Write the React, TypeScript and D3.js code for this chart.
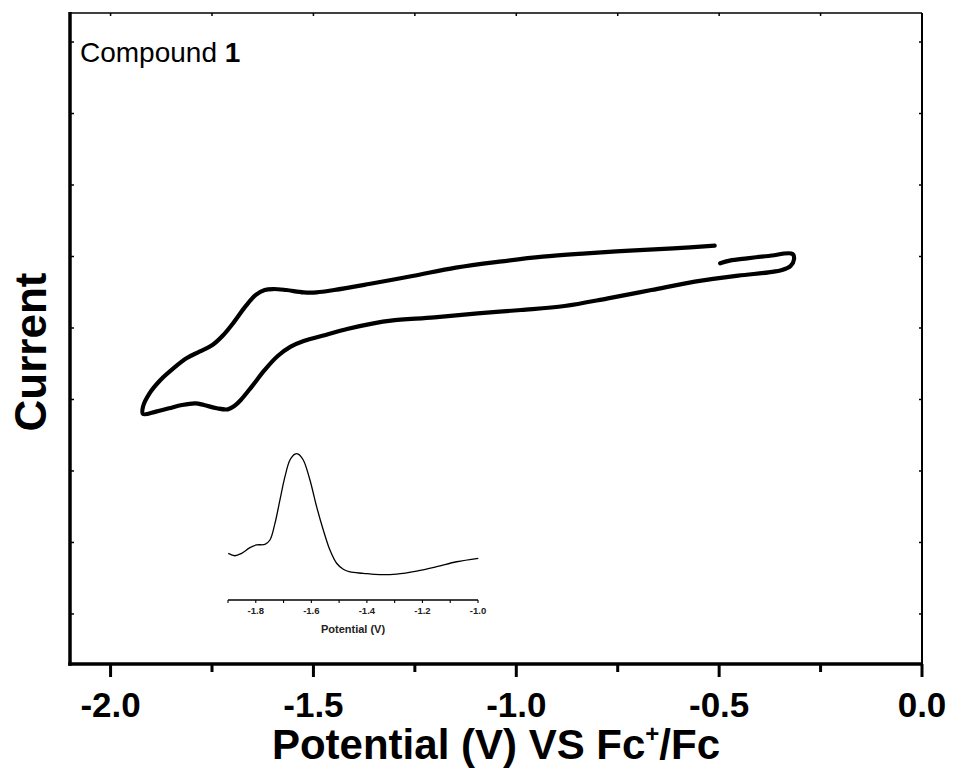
import React from "react";
import * as d3 from "d3";

// ---- Main cyclic voltammogram (potential in V vs Fc+/Fc, current in arbitrary units) ----
const cvPotential = [
  -0.4975, -0.474, -0.431, -0.378, -0.319, -0.3155, -0.324, -0.345, -0.378, -0.453,
  -0.56, -0.667, -0.774, -0.881, -0.988, -1.095, -1.202, -1.309, -1.352, -1.417,
  -1.47, -1.524, -1.556, -1.588, -1.62, -1.652, -1.679, -1.695, -1.711, -1.738,
  -1.77, -1.791, -1.824, -1.856, -1.888, -1.92, -1.92, -1.904, -1.877, -1.845,
  -1.813, -1.781, -1.749, -1.722, -1.695, -1.668, -1.642, -1.62, -1.599, -1.567,
  -1.524, -1.492, -1.449, -1.363, -1.256, -1.149, -1.042, -0.935, -0.827, -0.72,
  -0.613, -0.511,
];
const cvCurrent = [
  4.904, 4.942, 4.974, 5.007, 5.035, 4.96, 4.867, 4.811, 4.779, 4.732,
  4.648, 4.531, 4.415, 4.308, 4.252, 4.205, 4.149, 4.103, 4.065, 3.986,
  3.902, 3.818, 3.739, 3.608, 3.413, 3.18, 2.993, 2.909, 2.862, 2.877,
  2.923, 2.946, 2.923, 2.877, 2.83, 2.797, 2.9, 3.086, 3.273, 3.436,
  3.576, 3.669, 3.762, 3.902, 4.089, 4.298, 4.462, 4.531, 4.545, 4.531,
  4.499, 4.499, 4.531, 4.615, 4.727, 4.844, 4.928, 4.998, 5.044, 5.082,
  5.114, 5.152,
];

// ---- Inset (differential pulse) ----
const insetPotential = [
  -1.899, -1.875, -1.851, -1.821, -1.797, -1.767, -1.749, -1.731, -1.713, -1.695,
  -1.677, -1.659, -1.647, -1.629, -1.605, -1.581, -1.557, -1.533, -1.509, -1.485,
  -1.461, -1.413, -1.353, -1.293, -1.221, -1.149, -1.077, -0.999,
];
const insetSignal = [
  3.11, 2.95, 3.11, 3.49, 3.67, 3.71, 4.0, 5.11, 6.67, 8.22,
  9.33, 9.73, 9.73, 9.33, 8.0, 6.22, 4.67, 3.33, 2.45, 2.05,
  1.87, 1.78, 1.69, 1.73, 1.93, 2.22, 2.55, 2.78,
];

// ---- Ticks ----
const xMajorTicks = [-2.0, -1.5, -1.0, -0.5, 0.0];
const xMinorTicks = [-1.75, -1.25, -0.75, -0.25];
const yTicks = [0, 1, 2, 3, 4, 5, 6, 7, 8];
const insetMajorTicks = [-1.8, -1.6, -1.4, -1.2, -1.0];
const insetMinorTicks = [-1.9, -1.7, -1.5, -1.3, -1.1];

const FONT = "Arial, 'Liberation Sans', Helvetica, sans-serif";

export default function App() {
  const W = 953;
  const H = 770;
  const L = 70, R = 922, T = 13, B = 664;

  const x = d3.scaleLinear().domain([-2.1, 0]).range([L, R]);
  const y = d3.scaleLinear().domain([-0.7, 8.406]).range([B, T]);

  const xi = d3.scaleLinear().domain([-1.9, -1.0]).range([228, 478]);
  const yi = d3.scaleLinear().domain([0, 10]).range([600, 450]);

  const cvData = cvPotential.map((p, i) => [p, cvCurrent[i]] as [number, number]);
  const insetData = insetPotential.map((p, i) => [p, insetSignal[i]] as [number, number]);

  const cvLine = d3
    .line<[number, number]>()
    .x((d) => x(d[0]))
    .y((d) => y(d[1]))
    .curve(d3.curveCatmullRom.alpha(0.5));

  const insetLine = d3
    .line<[number, number]>()
    .x((d) => xi(d[0]))
    .y((d) => yi(d[1]))
    .curve(d3.curveCatmullRom.alpha(0.5));

  const fmt = (v: number) => v.toFixed(1).replace("\u2212", "-");

  return (
    <div style={{ position: "absolute", left: 0, top: 0 }}>
      <svg width={W} height={H} style={{ display: "block", background: "#fff" }}>
        {/* frame */}
        <line x1={L} x2={R} y1={T} y2={T} stroke="#000" strokeWidth={1.6} />
        <line x1={R} x2={R} y1={T} y2={B} stroke="#000" strokeWidth={2} />
        <line x1={L} x2={L} y1={T - 1} y2={B + 1.75} stroke="#000" strokeWidth={3.5} />
        <line x1={L - 1.75} x2={R + 1} y1={B} y2={B} stroke="#000" strokeWidth={3.5} />

        {/* bottom ticks (outward) */}
        {xMajorTicks.map((v) => (
          <line key={"xM" + v} x1={x(v)} x2={x(v)} y1={B} y2={B + 13} stroke="#000" strokeWidth={3} />
        ))}
        {xMinorTicks.map((v) => (
          <line key={"xm" + v} x1={x(v)} x2={x(v)} y1={B} y2={B + 8} stroke="#000" strokeWidth={3} />
        ))}
        {/* top ticks (inward, small) */}
        {[...xMajorTicks, ...xMinorTicks].map((v) => (
          <line key={"xt" + v} x1={x(v)} x2={x(v)} y1={T} y2={T + 3} stroke="#000" strokeWidth={1.5} />
        ))}
        {/* left / right ticks (inward, small) */}
        {yTicks.map((v) => (
          <g key={"y" + v}>
            <line x1={L} x2={L + 4} y1={y(v)} y2={y(v)} stroke="#000" strokeWidth={1.5} />
            <line x1={R} x2={R - 3} y1={y(v)} y2={y(v)} stroke="#000" strokeWidth={1.5} />
          </g>
        ))}

        {/* x tick labels */}
        {xMajorTicks.map((v) => (
          <text
            key={"xl" + v}
            x={x(v)}
            y={717}
            textAnchor="middle"
            fontFamily={FONT}
            fontWeight="bold"
            fontSize={35}
          >
            {fmt(v)}
          </text>
        ))}

        {/* axis titles */}
        <text x={(L + R) / 2} y={759} textAnchor="middle" fontFamily={FONT} fontWeight="bold" fontSize={42}>
          Potential (V) VS Fc
          <tspan fontSize={24} dy={-17}>+</tspan>
          <tspan dy={17}>/Fc</tspan>
        </text>
        <text
          transform={`translate(46,352) rotate(-90)`}
          textAnchor="middle"
          fontFamily={FONT}
          fontWeight="bold"
          fontSize={44}
        >
          Current
        </text>

        {/* label */}
        <text x={80} y={62} fontFamily={FONT} fontSize={28}>
          Compound <tspan fontWeight="bold">1</tspan>
        </text>

        {/* main CV */}
        <path d={cvLine(cvData) || ""} fill="none" stroke="#000" strokeWidth={4.2} strokeLinejoin="round" strokeLinecap="round" />

        {/* inset */}
        <path d={insetLine(insetData) || ""} fill="none" stroke="#000" strokeWidth={1.3} />
        <line x1={228} x2={478} y1={600} y2={600} stroke="#000" strokeWidth={1.3} />
        {[...insetMajorTicks, ...insetMinorTicks].map((v) => (
          <line key={"it" + v} x1={xi(v)} x2={xi(v)} y1={600} y2={603} stroke="#000" strokeWidth={1.1} />
        ))}
        {insetMajorTicks.map((v) => (
          <text
            key={"il" + v}
            x={xi(v)}
            y={614}
            textAnchor="middle"
            fontFamily={FONT}
            fontWeight="bold"
            fontSize={9.5}
            fill="#222"
          >
            {fmt(v)}
          </text>
        ))}
        <text x={(228 + 478) / 2} y={633} textAnchor="middle" fontFamily={FONT} fontWeight="bold" fontSize={11} fill="#222">
          Potential (V)
        </text>
      </svg>
    </div>
  );
}
